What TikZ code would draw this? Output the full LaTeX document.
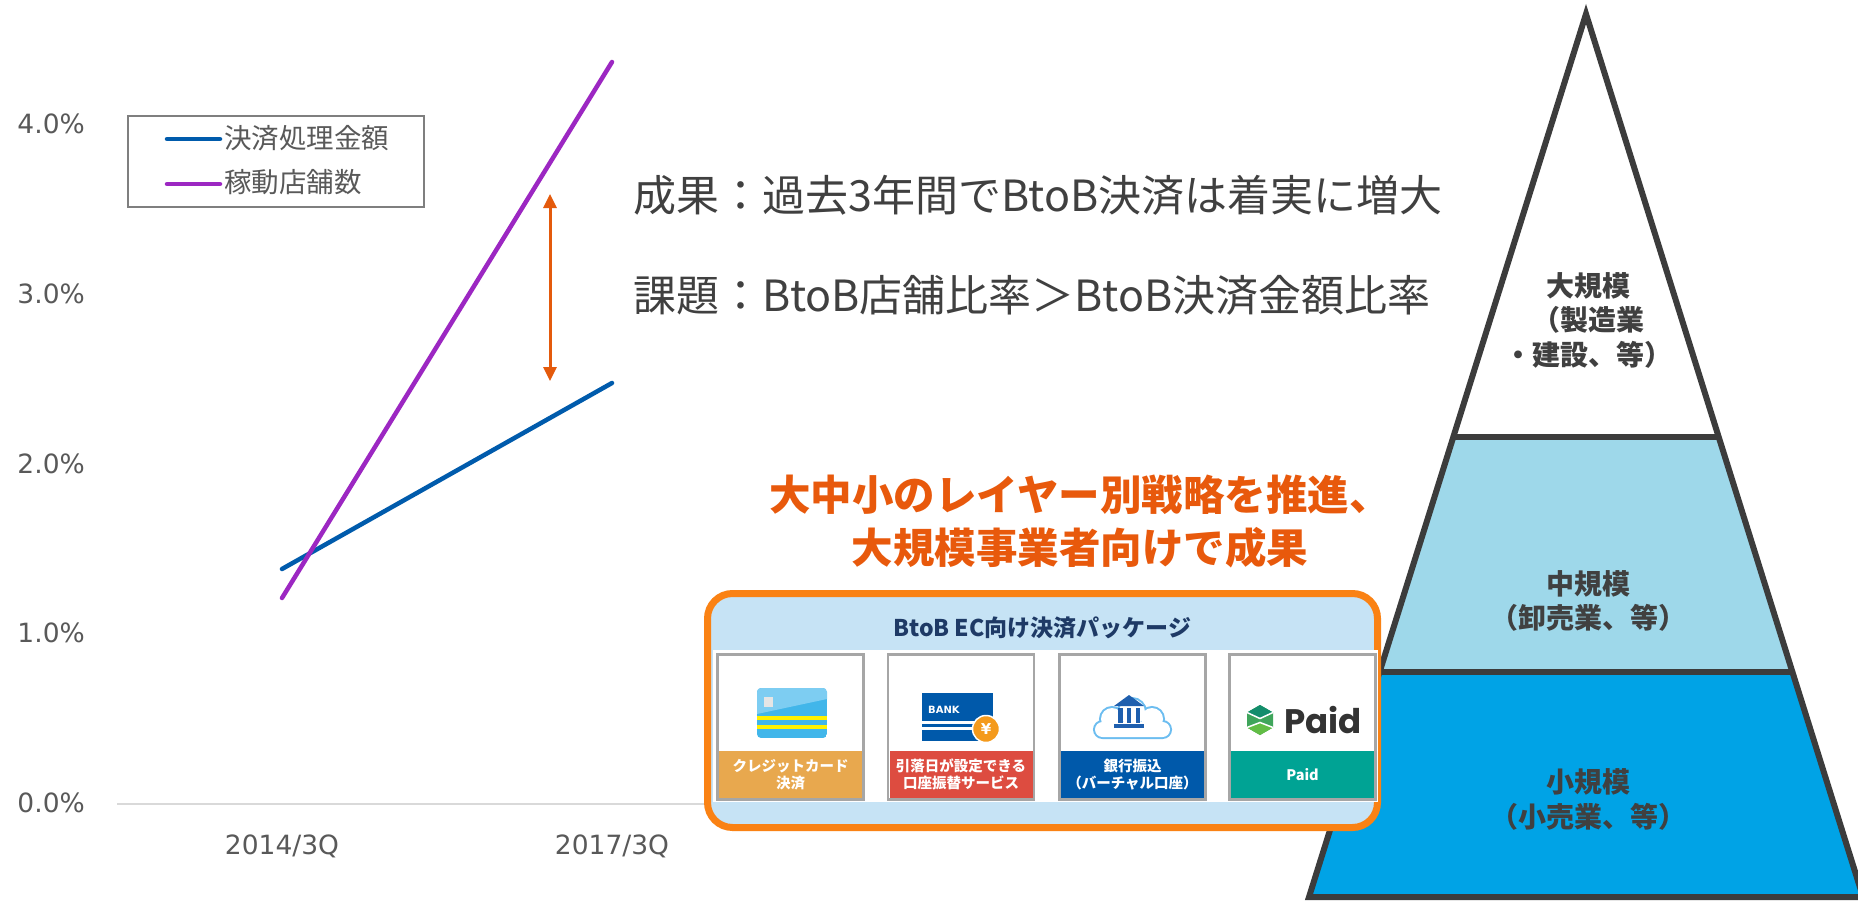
\documentclass[tikz,border=0pt]{standalone}
\usepackage{fontspec}
\setmainfont{Noto Sans CJK JP}
\newfontfamily\dv{DejaVu Sans}
\newfontfamily\pop{Poppins}
\usetikzlibrary{arrows.meta}
\definecolor{axgray}{HTML}{595959}
\definecolor{txtgray}{HTML}{404040}
\definecolor{leggray}{HTML}{7F7F7F}
\definecolor{basegray}{HTML}{D9D9D9}
\definecolor{bluec}{HTML}{005BAC}
\definecolor{purc}{HTML}{9C27C2}
\definecolor{arrowc}{HTML}{E45A0C}
\definecolor{headc}{HTML}{E8590C}
\definecolor{boxorange}{HTML}{FA8214}
\definecolor{boxblue}{HTML}{C6E3F5}
\definecolor{navy}{HTML}{1E3A66}
\definecolor{cardgray}{HTML}{A6A6A6}
\definecolor{tanc}{HTML}{E8A84E}
\definecolor{redc}{HTML}{DD4C40}
\definecolor{bankblue}{HTML}{0059AA}
\definecolor{tealc}{HTML}{00A394}
\definecolor{pyrmid}{HTML}{9ED8EA}
\definecolor{pyrlow}{HTML}{00A3E6}
\definecolor{pyrline}{HTML}{3C3C3C}
\definecolor{ccblue}{HTML}{41B6EA}
\definecolor{cclight}{HTML}{7DCDF2}
\definecolor{ccyellow}{HTML}{FFF100}
\definecolor{coinc}{HTML}{F49A1C}
\definecolor{cloudc}{HTML}{6CBDF0}
\definecolor{bldc}{HTML}{1F5FAE}
\definecolor{hexdark}{HTML}{138D6C}
\definecolor{hexmid}{HTML}{3FA55B}
\definecolor{hexlight}{HTML}{62BD45}
\definecolor{paidtxt}{HTML}{333333}
\tikzset{
  axlab/.style={font=\dv\fontsize{26.5}{30}\selectfont, text=axgray, inner sep=0pt},
  serline/.style={line width=4.5pt, line cap=round},
  leglab/.style={font=\fontsize{27.5}{32}\selectfont, text=axgray, inner sep=0pt, anchor=west},
  bigtxt/.style={font=\fontsize{43}{50}\selectfont, text=txtgray, inner sep=0pt, anchor=west},
  headl/.style={font=\bfseries\fontsize{41.5}{53}\selectfont, text=headc, inner sep=0pt, align=center},
  gaparrow/.style={draw=arrowc, line width=3pt, {Triangle[width=13pt,length=14pt]}-{Triangle[width=13pt,length=14pt]}},
  pyrlab/.style={font=\bfseries\fontsize{28}{34.5}\selectfont, text=txtgray, inner sep=0pt, align=center},
  pkgbox/.style={draw=boxorange, line width=7pt, fill=boxblue, rounded corners=25pt, minimum width=670pt, minimum height=234pt, inner sep=0pt},
  card/.style={draw=cardgray, line width=2.5pt, fill=white, minimum width=146pt, minimum height=145pt, inner sep=0pt},
  cardlab/.style={text=white, font=\bfseries\fontsize{14.5}{17}\selectfont, align=center, minimum width=143pt, minimum height=47pt, inner sep=0pt},
}
\begin{document}
\begin{tikzpicture}[x=1pt,y=-1pt]
\useasboundingbox (0,0) rectangle (1858,902);
\fill[white] (0,0) rectangle (1858,902);

% ---------- chart ----------
\coordinate (ax0) at (117,804);
\coordinate (ax1) at (1000,804);
\draw[basegray, line width=2pt] (ax0) -- (ax1);

\node[axlab, anchor=east] (y4) at (85,124) {4.0\%};
\node[axlab, anchor=east] (y3) at (85,294) {3.0\%};
\node[axlab, anchor=east] (y2) at (85,463.5) {2.0\%};
\node[axlab, anchor=east] (y1) at (85,633) {1.0\%};
\node[axlab, anchor=east] (y0) at (85,803) {0.0\%};
\node[axlab] (x1) at (282,846) {2014/3Q};
\node[axlab] (x2) at (612,846) {2017/3Q};

\coordinate (b1) at (282,569);
\coordinate (b2) at (612,383);
\coordinate (p1) at (282,598);
\coordinate (p2) at (612,62);
\draw[serline, bluec] (b1) -- (b2);
\draw[serline, purc] (p1) -- (p2);

% legend
\node[draw=leggray, line width=1.5pt, minimum width=296pt, minimum height=91pt, inner sep=0pt] (leg) at (276,161.5) {};
\coordinate (lb1) at (167,139);
\coordinate (lb2) at (220,139);
\coordinate (lp1) at (167,184);
\coordinate (lp2) at (220,184);
\draw[serline, bluec] (lb1) -- (lb2);
\draw[serline, purc] (lp1) -- (lp2);
\node[leglab] (lt1) at (224,138) {決済処理金額};
\node[leglab] (lt2) at (224,182) {稼動店舗数};

% gap arrow
\coordinate (a1) at (550,194);
\coordinate (a2) at (550,381);
\draw[gaparrow] (a1) -- (a2);

% texts
\node[bigtxt] (t1) at (633,195) {成果：過去3年間でBtoB決済は着実に増大};
\node[bigtxt] (t2) at (633,295) {課題：BtoB店舗比率＞BtoB決済金額比率};

\node[headl] (head) at (1080,521.5) {大中小のレイヤー別戦略を推進、\\大規模事業者向けで成果};

% ---------- pyramid ----------
\coordinate (apex) at (1586,14);
\coordinate (L1) at (1453,437);
\coordinate (R1) at (1719,437);
\coordinate (L2) at (1380,672);
\coordinate (R2) at (1792,672);
\coordinate (L3) at (1309,897);
\coordinate (R3) at (1863,897);
\fill[white] (apex) -- (L1) -- (R1) -- cycle;
\fill[pyrmid] (L1) -- (R1) -- (R2) -- (L2) -- cycle;
\fill[pyrlow] (L2) -- (R2) -- (R3) -- (L3) -- cycle;
\draw[pyrline, line width=6pt, line join=miter, miter limit=20] (apex) -- (L3) -- (R3) -- cycle;
\draw[pyrline, line width=6pt] (L1) -- (R1);
\draw[pyrline, line width=6pt] (L2) -- (R2);
\node[pyrlab] (ptop) at (1588,320) {大規模\\（製造業\\・建設、等）};
\node[pyrlab] (pmid) at (1588,601) {中規模\\（卸売業、等）};
\node[pyrlab] (plow) at (1588,799.5) {小規模\\（小売業、等）};

% ---------- package box ----------
\node[pkgbox] (pkg) at (1042.5,710.5) {};
\node[font=\bfseries\fontsize{23}{27}\selectfont, text=navy, inner sep=0pt] (ptitle) at (1042.5,628) {BtoB EC向け決済パッケージ};
\fill[white] (713,650) rectangle (1378,802);

\node[card] (c1) at (790.5,727) {};
\node[card] (c2) at (961,727) {};
\node[card] (c3) at (1132.5,727) {};
\node[card] (c4) at (1302.5,727) {};
\node[cardlab, fill=tanc] (l1) at (790.5,774.5) {クレジットカード\\決済};
\node[cardlab, fill=redc] (l2) at (961,774.5) {引落日が設定できる\\口座振替サービス};
\node[cardlab, fill=bankblue] (l3) at (1132.5,774.5) {銀行振込\\（バーチャル口座）};
\node[cardlab, fill=tealc] (l4) at (1302.5,774.5) {Paid};

% credit card icon
\begin{scope}
\clip[rounded corners=4pt] (757,688) rectangle (827,738);
\fill[ccblue] (757,688) rectangle (827,738);
\fill[cclight] (757,688) -- (827,688) -- (827,699) -- (757,714) -- cycle;
\fill[ccyellow] (757,715.5) rectangle (827,719.5);
\fill[ccyellow] (757,724.5) rectangle (827,728.5);
\end{scope}
\fill[gray!20] (764,697) rectangle (773,707);

% bank icon
\fill[bankblue] (922,693) rectangle (993,741);
\node[font=\dv\bfseries\fontsize{10}{12}\selectfont, text=white, inner sep=0pt, anchor=west] (bank) at (928,710) {BANK};
\fill[white] (922,721) rectangle (978,723.5);
\fill[white] (922,727) rectangle (978,729.5);
\fill[coinc, draw=white, line width=1.5pt] (986,729) circle[radius=13.5];
\node[font=\dv\bfseries\fontsize{15}{17}\selectfont, text=white, inner sep=0pt] (yen) at (986,729) {¥};

% cloud bank icon
\draw[cloudc, line width=4pt, rounded corners=7.5pt] (1095,722) rectangle (1170,737);
\draw[cloudc, line width=4pt] (1112,719) circle[radius=11];
\draw[cloudc, line width=4pt] (1152,719) circle[radius=11];
\draw[cloudc, line width=4pt] (1132,712) circle[radius=13];
\fill[white, rounded corners=7.5pt] (1095,722) rectangle (1170,737);
\fill[white] (1112,719) circle[radius=11];
\fill[white] (1152,719) circle[radius=11];
\fill[white] (1132,712) circle[radius=13];
\fill[bldc] (1114,706) -- (1129,695) -- (1144,706) -- cycle;
\fill[bldc] (1118,708) rectangle (1122.5,723);
\fill[bldc] (1126.7,708) rectangle (1131.3,723);
\fill[bldc] (1135.5,708) rectangle (1140,723);
\fill[bldc] (1114,724) rectangle (1144,728);

% Paid logo
\coordinate (hT) at (1260,705);
\coordinate (hUR) at (1273,712.5);
\coordinate (hLR) at (1273,727.5);
\coordinate (hB) at (1260,735);
\coordinate (hLL) at (1247,727.5);
\coordinate (hUL) at (1247,712.5);
\coordinate (hC) at (1260,718.5);
\coordinate (hC2) at (1260,722.5);
\fill[hexmid] (hT) -- (hUR) -- (hLR) -- (hB) -- (hLL) -- (hUL) -- cycle;
\fill[hexdark] (hT) -- (hUR) -- (hC) -- (hUL) -- cycle;
\fill[hexlight] (hB) -- (hLR) -- (hC2) -- (hLL) -- cycle;
\draw[white, line width=1.5pt] (hUL) -- (hC) -- (hUR);
\draw[white, line width=1.5pt] (hLL) -- (hC2) -- (hLR);
\node[font=\pop\bfseries\fontsize{34}{40}\selectfont, text=paidtxt, inner sep=0pt] (paid) at (1323,720) {Paid};
\end{tikzpicture}
\end{document}
